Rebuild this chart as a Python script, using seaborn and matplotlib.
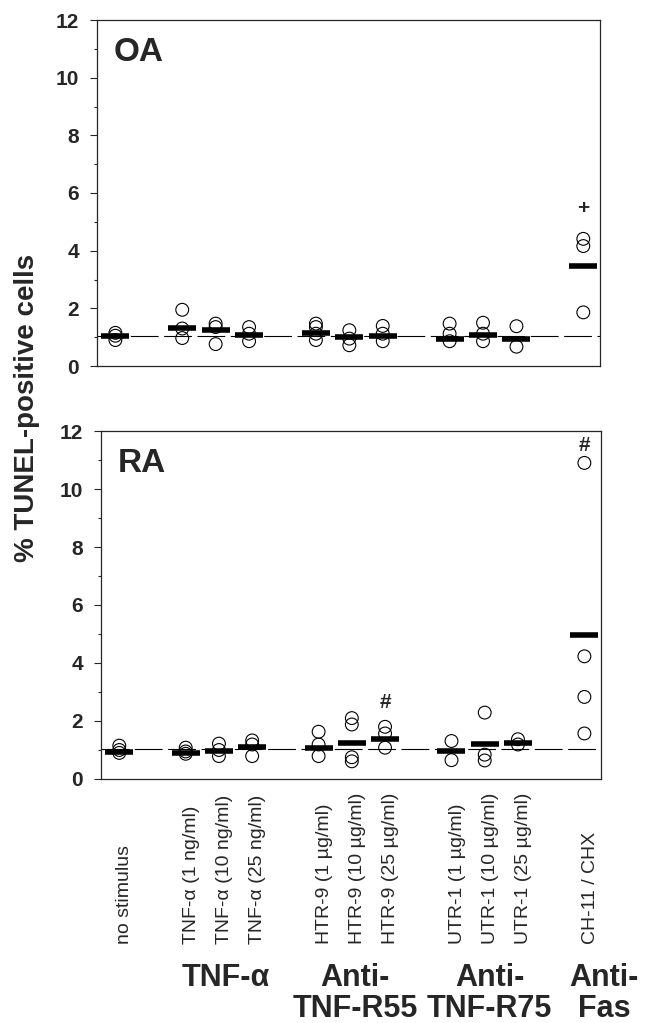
import matplotlib.pyplot as plt
import matplotlib.transforms as mtransforms
import pandas as pd
import seaborn as sns

sns.set_style("ticks")
plt.rcParams["font.family"] = ["Liberation Sans", "DejaVu Sans"]

# Condition positions on the x axis (gaps between treatment groups)
positions = [0, 2, 3, 4, 6, 7, 8, 10, 11, 12, 14]
conditions = [
    "no stimulus",
    "TNF-α (1 ng/ml)", "TNF-α (10 ng/ml)", "TNF-α (25 ng/ml)",
    "HTR-9 (1 µg/ml)", "HTR-9 (10 µg/ml)", "HTR-9 (25 µg/ml)",
    "UTR-1 (1 µg/ml)", "UTR-1 (10 µg/ml)", "UTR-1 (25 µg/ml)",
    "CH-11 / CHX",
]
groups = ["TNF-α", "Anti-\nTNF-R55", "Anti-\nTNF-R75", "Anti-\nFas"]
group_pos = [3.2, 7.1, 11.15, 14.6]

# OA panel: individual donors and mean bars
oa_points = [
    [0.9, 1.05, 1.15],
    [0.97, 1.3, 1.95],
    [0.76, 1.35, 1.47],
    [0.86, 1.12, 1.35],
    [0.9, 1.12, 1.35, 1.47],
    [0.72, 0.95, 1.24],
    [0.86, 1.12, 1.39],
    [0.86, 1.12, 1.47],
    [0.86, 1.12, 1.5],
    [0.67, 1.38],
    [1.86, 4.16, 4.41],
]
oa_means = [1.04, 1.32, 1.24, 1.07, 1.16, 1.01, 1.03, 0.93, 1.07, 0.92, 3.47]
oa_marks = [(14, 5.45, "+")]

# RA panel
ra_points = [
    [0.9, 1.0, 1.15],
    [0.87, 0.95, 1.08],
    [0.79, 1.0, 1.22],
    [0.79, 1.19, 1.33],
    [0.79, 1.19, 1.63],
    [0.61, 0.75, 1.88, 2.1],
    [1.08, 1.57, 1.8],
    [0.65, 1.31],
    [0.64, 0.84, 2.29],
    [1.19, 1.37],
    [1.57, 2.83, 4.23, 10.9],
]
ra_means = [0.94, 0.88, 0.96, 1.11, 1.08, 1.25, 1.39, 0.98, 1.21, 1.25, 4.97]
ra_marks = [(8, 2.64, "#"), (14, 11.5, "#")]

baseline = 1.03


def draw_panel(ax, points, means, tag, marks):
    rows = [(p, v) for p, vals in zip(positions, points) for v in vals]
    df_pts = pd.DataFrame(rows, columns=["pos", "value"])
    df_mean = pd.DataFrame({"pos": positions, "value": means})

    ax.axhline(baseline, color="black", lw=0.8, dashes=(25, 5), zorder=1)

    sns.scatterplot(data=df_pts, x="pos", y="value", ax=ax, marker="o",
                    s=85, color="black", linewidth=0.8, legend=False, zorder=3)
    circles = ax.collections[-1]
    circles.set_facecolor("none")
    circles.set_edgecolor("black")

    sns.scatterplot(data=df_mean, x="pos", y="value", ax=ax, marker="_",
                    s=380, color="black", linewidth=4.0, legend=False, zorder=4)

    for x, y, s in marks:
        ax.text(x, y, s, ha="center", va="center", fontsize=15,
                fontweight="bold")

    ax.text(0.034, 0.952, tag, transform=ax.transAxes, ha="left", va="top",
            fontsize=24, fontweight="bold")

    ax.set_xlim(-0.55, 14.5)
    ax.set_ylim(0, 12)
    ax.set_yticks(range(0, 13, 2))
    ax.set_yticks(range(1, 13, 2), minor=True)
    ax.set_xticks([])
    ax.set_xlabel("")
    ax.set_ylabel("")
    ax.tick_params(axis="y", which="major", length=5, width=0.8, pad=8,
                   labelsize=15)
    ax.tick_params(axis="y", which="minor", length=2.5, width=0.8)
    for lab in ax.get_yticklabels():
        lab.set_fontweight("bold")
    for sp in ax.spines.values():
        sp.set_visible(True)
        sp.set_linewidth(0.9)


fig = plt.figure(figsize=(6.53, 10.23), dpi=100)
ax_oa = fig.add_axes([97 / 653, 1 - 366 / 1023, 503 / 653, 346 / 1023])
ax_ra = fig.add_axes([101 / 653, 1 - 779 / 1023, 500 / 653, 348 / 1023])

draw_panel(ax_oa, oa_points, oa_means, "OA", oa_marks)
draw_panel(ax_ra, ra_points, ra_means, "RA", ra_marks)

fig.text(0.041, 1 - 407.5 / 1023, "% TUNEL-positive cells", rotation=90,
         ha="center", va="center", fontsize=20, fontweight="bold")

# Rotated condition labels under the RA panel
trans = mtransforms.blended_transform_factory(ax_ra.transData, fig.transFigure)
for x, lab in zip(positions, conditions):
    ax_ra.text(x + 0.17, 1 - 944 / 1023, lab, rotation=90, ha="center",
               va="bottom", fontsize=14, transform=trans)

# Treatment group labels
for x, lab in zip(group_pos, groups):
    ax_ra.text(x, 1 - 963 / 1023, lab, ha="center", va="top", fontsize=22,
               fontweight="bold", linespacing=1.05, transform=trans)

fig.savefig("out.png", dpi=100)
